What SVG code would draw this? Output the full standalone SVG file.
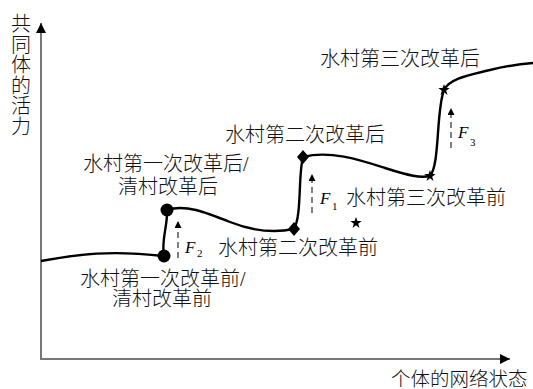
<svg xmlns="http://www.w3.org/2000/svg" width="533" height="389" viewBox="0 0 533 389">
<style>
.lbl{font-family:"Liberation Serif","Noto Sans CJK SC",serif;font-size:20px;font-weight:300;fill:#111}
.ax{stroke:#777;stroke-width:2;fill:none}
.crv{stroke:#000;stroke-width:2.4;fill:none}
.frc{stroke:#000;stroke-width:1;stroke-dasharray:6 4;fill:none}
.fl{font-family:"Liberation Serif",serif;font-style:italic;font-size:17px;fill:#000}
.fs{font-family:"Liberation Serif",serif;font-size:11px;fill:#000}
</style>
<defs>
<marker id="axh" viewBox="0 0 10 10" refX="10" refY="5" markerWidth="10" markerHeight="10" markerUnits="userSpaceOnUse" orient="auto"><path d="M0,0 L10,5 L0,10 Z" fill="#000"/></marker>
<marker id="fh" viewBox="0 0 10 10" refX="10" refY="5" markerWidth="8" markerHeight="7" markerUnits="userSpaceOnUse" orient="auto"><path d="M0,0 L10,5 L0,10 Z" fill="#000"/></marker>
<path id="star" d="M0,-6 L1.4,-1.9 L5.7,-1.9 L2.2,0.7 L3.5,4.9 L0,2.3 L-3.5,4.9 L-2.2,0.7 L-5.7,-1.9 L-1.4,-1.9 Z" fill="#000"/>
</defs>
<g id="axes">
<path class="ax" d="M41,359 V23" marker-end="url(#axh)"/>
<path class="ax" d="M40,359 H510" marker-end="url(#axh)"/>
<text class="lbl" x="21" y="31" text-anchor="middle">共</text>
<text class="lbl" x="21" y="51.6" text-anchor="middle">同</text>
<text class="lbl" x="21" y="72.2" text-anchor="middle">体</text>
<text class="lbl" x="21" y="92.8" text-anchor="middle">的</text>
<text class="lbl" x="21" y="113.4" text-anchor="middle">活</text>
<text class="lbl" x="21" y="134" text-anchor="middle">力</text>
<text class="lbl" x="391" y="386" style="font-size:19.5px">个体的网络状态</text>
</g>
<g id="connectors">
<path class="crv" d="M41,261 C80,254 110,250 164,256"/>
<path class="crv" d="M164,256 C161,240 168,225 167,210"/>
<path class="crv" d="M167,210 C185,204 205,212 230,222 S275,233 294,229"/>
<path class="crv" d="M294,229 C302,215 298,175 303,157"/>
<path class="crv" d="M303,157 C330,150 360,160 385,168 S420,178 430,176"/>
<path class="crv" d="M430,176 C440,165 436,110 444,90"/>
<path class="crv" d="M444,90 C450,78 470,75 490,70 S520,64 533,63"/>
<path class="frc" d="M178,258 V221" marker-end="url(#fh)"/>
<path class="frc" d="M312,213 V174" marker-end="url(#fh)"/>
<path class="frc" d="M451,148 V108" marker-end="url(#fh)"/>
</g>
<g id="n1"><circle cx="164" cy="256" r="6.5" fill="#000"/>
<text class="lbl" x="80" y="286">水村第一次改革前/</text>
<text class="lbl" x="112" y="306">清村改革前</text></g>
<g id="n2"><circle cx="167" cy="210" r="6.5" fill="#000"/>
<text class="lbl" x="83" y="171">水村第一次改革后/</text>
<text class="lbl" x="118" y="194">清村改革后</text></g>
<g id="n3"><path d="M294,222 L300,229 L294,236 L288,229 Z" fill="#000"/>
<text class="lbl" x="218" y="255">水村第二次改革前</text></g>
<g id="n4"><path d="M303,150 L309,157 L303,164 L297,157 Z" fill="#000"/>
<text class="lbl" x="225" y="142">水村第二次改革后</text></g>
<g id="n5"><use href="#star" x="430" y="176"/>
<text class="lbl" x="346" y="205">水村第三次改革前</text></g>
<g id="n6"><use href="#star" x="444" y="90"/>
<text class="lbl" x="320" y="66">水村第三次改革后</text></g>
<g id="n7"><use href="#star" x="356" y="223"/></g>
<g id="forces">
<text class="fl" x="185" y="253">F</text><text class="fs" x="197" y="257">2</text>
<text class="fl" x="320" y="204">F</text><text class="fs" x="332" y="210">1</text>
<text class="fl" x="458" y="138">F</text><text class="fs" x="470" y="146">3</text>
</g>
</svg>
